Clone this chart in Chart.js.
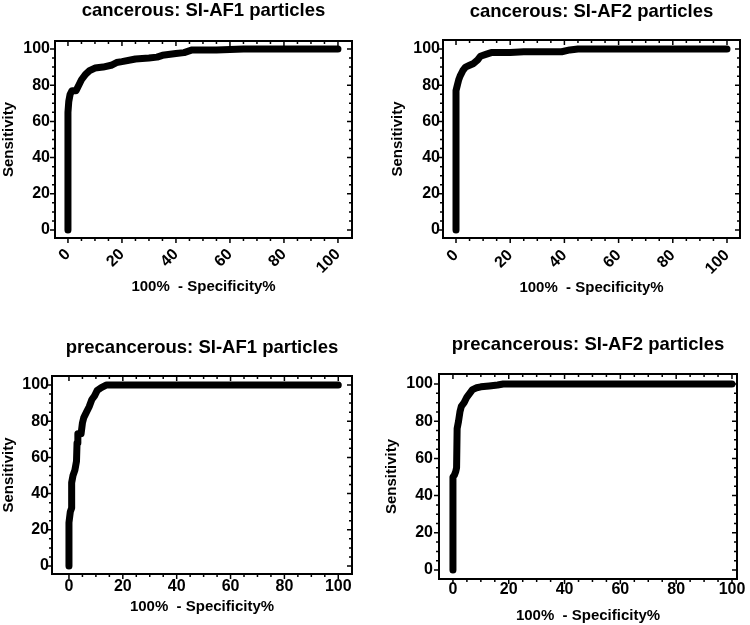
<!DOCTYPE html>
<html>
<head>
<meta charset="utf-8">
<script src="https://cdn.jsdelivr.net/npm/chart.js@4.4.1/dist/chart.umd.min.js"></script>
<style>
  html, body { margin: 0; padding: 0; background: #fff; }
  #wrap { position: relative; width: 750px; height: 625px; }
  #wrap canvas { position: absolute; }
</style>
</head>
<body>
<div id="wrap">
  <canvas id="c1" width="375" height="312" style="left:0;top:0"></canvas>
  <canvas id="c2" width="375" height="312" style="left:375px;top:0"></canvas>
  <canvas id="c3" width="375" height="313" style="left:0;top:312px"></canvas>
  <canvas id="c4" width="375" height="313" style="left:375px;top:312px"></canvas>
</div>
<script>
// Data
const xTicks = [0, 20, 40, 60, 80, 100];
const yTicks = [0, 20, 40, 60, 80, 100];
const xLabel = '100%  - Specificity%';
const yLabel = 'Sensitivity';

const titles = [
    'cancerous: SI-AF1 particles',
    'cancerous: SI-AF2 particles',
    'precancerous: SI-AF1 particles',
    'precancerous: SI-AF2 particles'
];

const cancerAf1X = [0, 0, 0.3, 0.8, 1.5, 3, 4, 5, 6.5, 8, 10, 13, 16, 18, 20, 25, 30, 33, 35, 40, 43, 46, 55, 65, 100];
const cancerAf1Y = [0, 65, 71, 75, 77, 77, 80, 83, 86, 88, 89.5, 90, 91, 92.5, 93, 94.5, 95, 95.5, 96.5, 97.5, 98, 99.5, 99.5, 100, 100];

const cancerAf2X = [0, 0, 0.5, 1, 1.5, 2.5, 3.5, 5, 6.5, 8, 9, 11, 13, 20, 25, 39, 42, 45, 100];
const cancerAf2Y = [0, 77, 80, 83, 85, 88, 90, 91, 92, 94, 96, 97, 98, 98, 98.5, 98.5, 99.5, 100, 100];

const preAf1X = [0, 0, 0.5, 1, 1, 1.5, 2.2, 2.8, 3, 3.3, 4.5, 5, 5.5, 6.5, 7.5, 8.5, 9.5, 10.5, 12, 14, 24, 100];
const preAf1Y = [0, 24, 30, 32, 46, 50, 53, 58, 68, 73, 73, 79, 82, 85, 88, 92, 94, 97, 98.5, 100, 100, 100];

const preAf2X = [0, 0, 0.5, 1, 1.3, 1.5, 2, 2.5, 3, 4, 5, 6, 7, 8.5, 10, 13, 16, 18, 100];
const preAf2Y = [0, 50, 51, 53, 55, 76, 80, 85, 88, 90, 93, 95, 97, 98, 98.5, 99, 99.5, 100, 100];

const seriesX = [cancerAf1X, cancerAf2X, preAf1X, preAf2X];
const seriesY = [cancerAf1Y, cancerAf2Y, preAf1Y, preAf2Y];

// panel layout (pixels inside each canvas)
const panels = [
    { id: 'c1', pad: { top: 0, left: 0, right: 23, bottom: 16 }, titleGap: 18.8, yWidth: 55, xHeight: 58,
      xMin: -4.8, xMax: 105.2, yMin: -4.42, yMax: 104.42, rot: 45, xPad: 7, yPad: 5 },
    { id: 'c2', pad: { top: 1, left: 14, right: 10, bottom: 15 }, titleGap: 16.8, yWidth: 54, xHeight: 59,
      xMin: -4.8, xMax: 104.8, yMin: -4.42, yMax: 104.97, rot: 45, xPad: 8, yPad: 3 },
    { id: 'c3', pad: { top: 25, left: 0, right: 23, bottom: 9.5 }, titleGap: 16.8, yWidth: 52, xHeight: 41.5,
      xMin: -6.3, xMax: 105.1, yMin: -4.42, yMax: 104.97, rot: 0, xPad: 3.4, yPad: 3 },
    { id: 'c4', pad: { top: 21.5, left: 7.5, right: 13, bottom: 0.5 }, titleGap: 18.3, yWidth: 56.5, xHeight: 45.5,
      xMin: -5.0, xMax: 101.8, yMin: -4.84, yMax: 105.4, rot: 0, xPad: 1.4, yPad: 6 }
];

const FONT = '"Liberation Sans", Arial, Helvetica, sans-serif';

// frame with Prism-style major/minor ticks
const frameTicks = {
    id: 'frameTicks',
    afterDraw(chart) {
        const { ctx, chartArea: a, scales: { x, y } } = chart;
        ctx.save();
        ctx.strokeStyle = '#000';
        ctx.lineWidth = 2;
        ctx.strokeRect(a.left, a.top, a.right - a.left, a.bottom - a.top);
        ctx.lineWidth = 1.5;
        ctx.beginPath();
        for (let v = 0; v <= 100; v += 5) {
            const big = v % 20 === 0;
            const out = big ? 5 : 3;
            const inn = big ? 5 : 3;
            const px = x.getPixelForValue(v);
            const py = y.getPixelForValue(v);
            ctx.moveTo(px, a.bottom); ctx.lineTo(px, a.bottom + out);
            ctx.moveTo(px, a.top); ctx.lineTo(px, a.top + inn);
            ctx.moveTo(a.left, py); ctx.lineTo(a.left - out, py);
            ctx.moveTo(a.right, py); ctx.lineTo(a.right - inn, py);
        }
        ctx.stroke();
        ctx.restore();
    }
};

panels.forEach((p, i) => {
    const points = seriesX[i].map((v, k) => ({ x: v, y: seriesY[i][k] }));
    new Chart(document.getElementById(p.id), {
        type: 'scatter',
        data: {
            datasets: [{
                data: points,
                showLine: true,
                borderColor: '#000',
                backgroundColor: '#000',
                borderWidth: 7,
                borderCapStyle: 'round',
                borderJoinStyle: 'round',
                pointRadius: 0,
                tension: 0,
                clip: false
            }]
        },
        options: {
            responsive: false,
            animation: false,
            layout: { padding: p.pad },
            plugins: {
                legend: { display: false },
                tooltip: { enabled: false },
                title: {
                    display: true,
                    text: titles[i],
                    fullSize: false,
                    color: '#000',
                    font: { family: FONT, size: 18.5, weight: 'bold' },
                    padding: { top: 0, bottom: p.titleGap }
                }
            },
            scales: {
                x: {
                    type: 'linear',
                    min: p.xMin,
                    max: p.xMax,
                    afterBuildTicks: s => { s.ticks = xTicks.map(v => ({ value: v })); },
                    afterFit: s => { s.height = p.xHeight; },
                    grid: { display: false, drawTicks: false },
                    border: { display: false },
                    ticks: {
                        color: '#000',
                        font: { family: FONT, size: 16, weight: 'bold' },
                        minRotation: p.rot,
                        maxRotation: p.rot,
                        padding: p.xPad
                    },
                    title: {
                        display: true,
                        text: xLabel,
                        color: '#000',
                        font: { family: FONT, size: 15, weight: 'bold' },
                        padding: 0
                    }
                },
                y: {
                    type: 'linear',
                    min: p.yMin,
                    max: p.yMax,
                    afterBuildTicks: s => { s.ticks = yTicks.map(v => ({ value: v })); },
                    afterFit: s => { s.width = p.yWidth; },
                    grid: { display: false, drawTicks: false },
                    border: { display: false },
                    ticks: {
                        color: '#000',
                        font: { family: FONT, size: 16, weight: 'bold' },
                        padding: p.yPad
                    },
                    title: {
                        display: true,
                        text: yLabel,
                        color: '#000',
                        font: { family: FONT, size: 15, weight: 'bold' },
                        padding: 0
                    }
                }
            }
        },
        plugins: [frameTicks]
    });
});
</script>
</body>
</html>
